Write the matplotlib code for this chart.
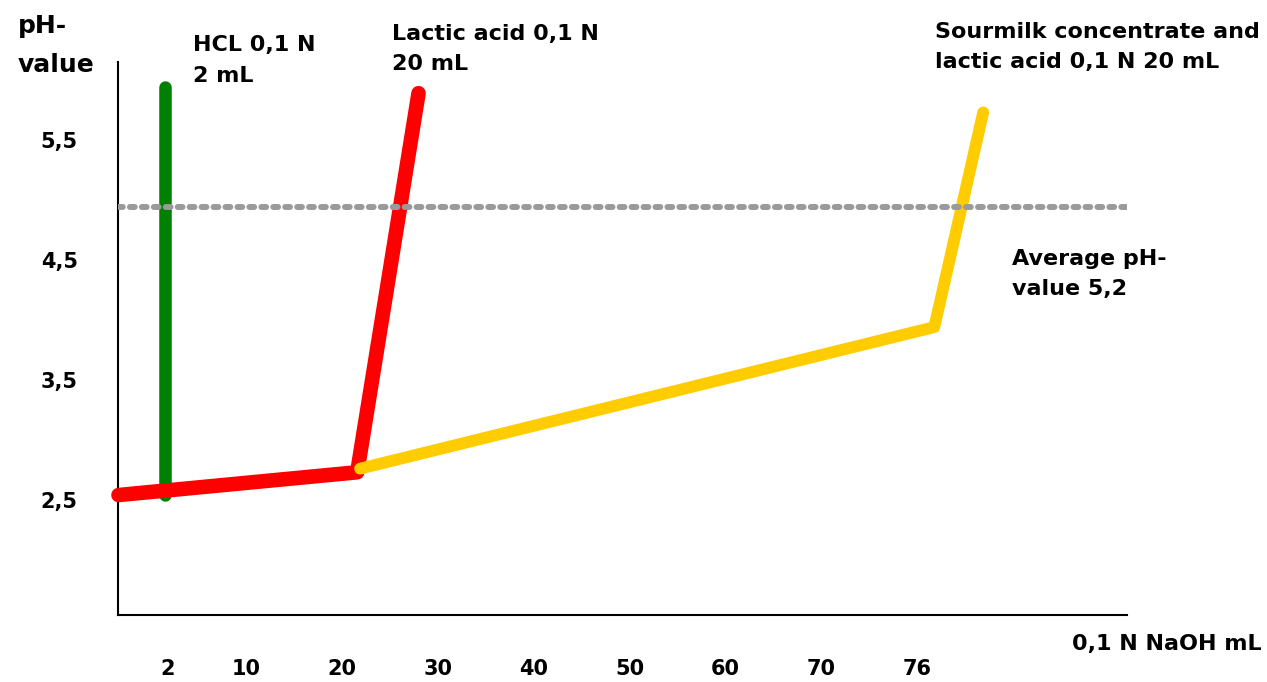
import matplotlib
matplotlib.use("Agg")
import matplotlib.pyplot as plt

# categories on the x axis (NaOH mL) and where they sit
tick_labels = ['2', '10', '20', '30', '40', '50', '60', '70', '76']
tick_pos = [0.18, 1, 2, 3, 4, 5, 6, 7, 8]
y_ticks = [2.5, 3.5, 4.5, 5.5]
y_tick_labels = ['2,5', '3,5', '4,5', '5,5']

# titration curves
hcl_x = [0.16, 0.16]
hcl_ph = [2.54, 5.94]
lactic_x = [-0.33, 2.16, 2.80]
lactic_ph = [2.54, 2.73, 5.89]
sour_x = [2.19, 8.18, 8.69]
sour_ph = [2.76, 3.94, 5.73]
avg_ph = 4.94

plt.rcParams['font.family'] = ['DejaVu Sans']
plt.rcParams['font.weight'] = 'bold'

W, H = 1267, 682
fig = plt.figure(figsize=(W / 100, H / 100), dpi=100)
ax = fig.add_axes([118 / W, 67 / H, (1127 - 118) / W, (615 - 62) / H])

ax.plot(hcl_x, hcl_ph, color='#008000', lw=9, solid_capstyle='round', clip_on=False, zorder=2)
ax.plot(lactic_x, lactic_ph, color='#FF0000', lw=10.5, solid_capstyle='round',
        solid_joinstyle='round', clip_on=False, zorder=3)
ax.plot(sour_x, sour_ph, color='#FFCC00', lw=8.5, solid_capstyle='round',
        solid_joinstyle='round', clip_on=False, zorder=4)
ax.axhline(avg_ph, color='#9A9A9A', lw=4.3, dashes=(0.8, 1.2), dash_capstyle='round', zorder=5)

ax.set_xlim(-0.335, 10.19)
ax.set_ylim(1.54, 6.15)

ax.set_xticks(tick_pos)
ax.set_xticklabels(tick_labels, fontsize=15, fontweight='bold')
ax.set_yticks(y_ticks)
ax.set_yticklabels(y_tick_labels, fontsize=15, fontweight='bold')
ax.tick_params(axis='x', length=0, pad=32)
ax.tick_params(axis='y', length=0, pad=29)

for s in ['top', 'right']:
    ax.spines[s].set_visible(False)
for s in ['left', 'bottom']:
    ax.spines[s].set_linewidth(1.5)
    ax.spines[s].set_color('black')


def label(x, y, txt, size=16, ls=1.65):
    fig.text(x / W, 1 - y / H, txt, fontsize=size, fontweight='bold',
             ha='left', va='top', linespacing=ls)


label(18, 14, 'pH-\nvalue', size=18, ls=1.8)
label(193, 35, 'HCL 0,1 N\n2 mL', ls=1.7)
label(392, 24, 'Lactic acid 0,1 N\n20 mL')
label(935, 22, 'Sourmilk concentrate and\nlactic acid 0,1 N 20 mL')
label(1012, 249, 'Average pH-\nvalue 5,2')
label(1072, 634, '0,1 N NaOH mL')

fig.savefig('out.png', dpi=100)
